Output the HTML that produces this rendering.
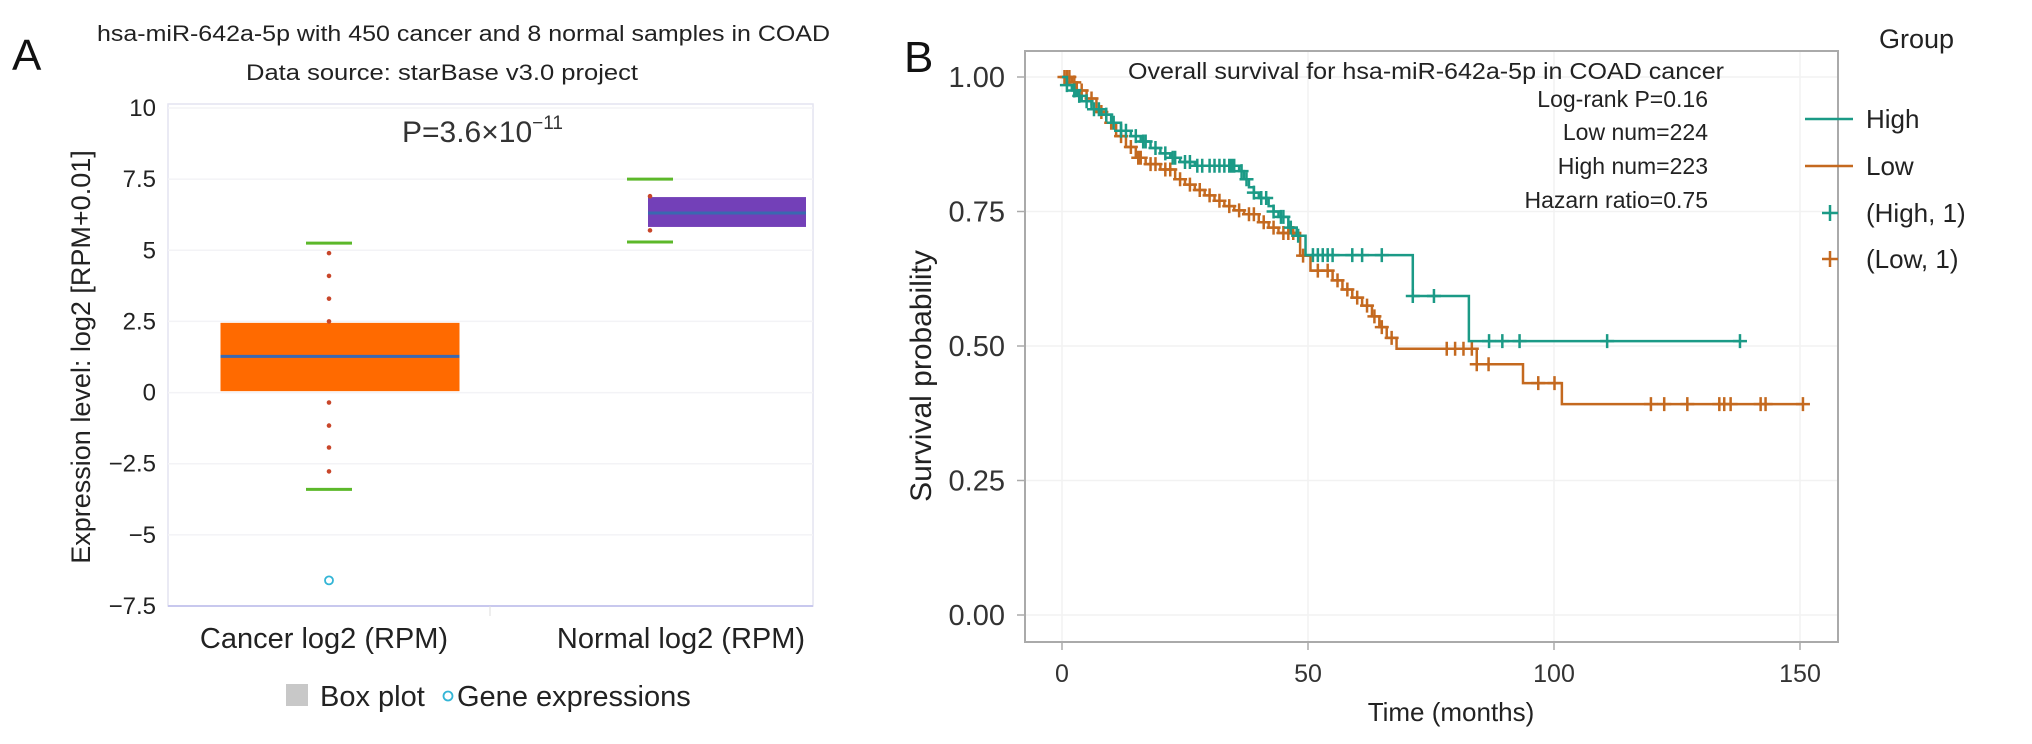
<!DOCTYPE html>
<html><head><meta charset="utf-8"><style>
html,body{margin:0;padding:0;background:#fff;}
svg{display:block;font-family:"Liberation Sans",Arial,sans-serif;}
</style></head><body>
<svg id="fig" width="2032" height="744" viewBox="0 0 2032 744" xmlns="http://www.w3.org/2000/svg">
<g id="panelA">
<text x="12" y="70" font-size="44" fill="#111">A</text>
<text x="97" y="41" font-size="22" fill="#222" textLength="733" lengthAdjust="spacingAndGlyphs">hsa-miR-642a-5p with 450 cancer and 8 normal samples in COAD</text>
<text x="246" y="80" font-size="22" fill="#222" textLength="392" lengthAdjust="spacingAndGlyphs">Data source: starBase v3.0 project</text>
<rect x="168" y="104" width="645" height="502" fill="none" stroke="#e4e4f0" stroke-width="1.5"/>
<g id="gridA"></g>
<g id="yTicksA"></g>
<line x1="168" y1="606" x2="813" y2="606" stroke="#c8c8ee" stroke-width="2"/>
<line x1="490" y1="606" x2="490" y2="616" stroke="#ddd"/>
<text x="0" y="0" transform="translate(90,357) rotate(-90)" text-anchor="middle" font-size="27" fill="#222">Expression level: log2 [RPM+0.01]</text>
<text x="402" y="142" font-size="30" fill="#333">P=3.6×10<tspan dy="-13" font-size="19">−11</tspan></text>
<g id="boxes"></g>
<g id="xLabelsA"></g>
<rect x="286" y="684" width="22" height="22" fill="#c8c8c8"/>
<text x="320" y="706" font-size="29" fill="#222">Box plot</text>
<circle cx="448" cy="696" r="4.5" fill="none" stroke="#33b5d6" stroke-width="1.8"/>
<text x="457" y="706" font-size="29" fill="#222">Gene expressions</text>
</g>
<g id="panelB">
<text x="904" y="72" font-size="44" fill="#111">B</text>
<g id="gridB"></g>
<rect x="1025" y="51" width="813" height="591" fill="none" stroke="#aaa" stroke-width="2"/>
<g id="axesB"></g>
<text x="0" y="0" transform="translate(931,376) rotate(-90)" text-anchor="middle" font-size="30" fill="#222">Survival probability</text>
<text x="1451" y="721" text-anchor="middle" font-size="26" fill="#222">Time (months)</text>
<text x="1128" y="79" font-size="23" fill="#222" textLength="596" lengthAdjust="spacingAndGlyphs">Overall survival for hsa-miR-642a-5p in COAD cancer</text>
<text x="1708" y="107" text-anchor="end" font-size="23" fill="#222">Log-rank P=0.16</text>
<text x="1708" y="140" text-anchor="end" font-size="23" fill="#222">Low num=224</text>
<text x="1708" y="174" text-anchor="end" font-size="23" fill="#222">High num=223</text>
<text x="1708" y="208" text-anchor="end" font-size="23" fill="#222">Hazarn ratio=0.75</text>
<g id="curves"></g>
<text x="1879" y="48" font-size="27" fill="#222">Group</text>
<line x1="1805" y1="119" x2="1853" y2="119" stroke="#1b9a86" stroke-width="2.5"/>
<text x="1866" y="128" font-size="26" fill="#222">High</text>
<line x1="1805" y1="166" x2="1853" y2="166" stroke="#c4691f" stroke-width="2.5"/>
<text x="1866" y="175" font-size="26" fill="#222">Low</text>
<path d="M1822 213h16M1830 205v16" stroke="#1b9a86" stroke-width="2.5"/>
<text x="1866" y="222" font-size="26" fill="#222">(High, 1)</text>
<path d="M1822 259h16M1830 251v16" stroke="#c4691f" stroke-width="2.5"/>
<text x="1866" y="268" font-size="26" fill="#222">(Low, 1)</text>
</g>
</svg>
<script>
// ---- Panel A data ----
const yTicksA = [10, 7.5, 5, 2.5, 0, -2.5, -5, -7.5];
const yTickLabelsA = ["10", "7.5", "5", "2.5", "0", "−2.5", "−5", "−7.5"];
const categoriesA = ["Cancer log2 (RPM)", "Normal log2 (RPM)"];
const q1Values = [0.05, 5.82];
const medianValues = [1.27, 6.31];
const q3Values = [2.45, 6.87];
const whiskerLow = [-3.4, 5.29];
const whiskerHigh = [5.25, 7.5];
const cancerDots = [4.9, 4.1, 3.3, 2.5, -0.35, -1.16, -1.93, -2.77];
const normalDots = [6.9, 5.7];
const outlierValues = [-6.6];

// ---- Panel B data ----
const xTicksB = [0, 50, 100, 150];
const yTicksB = [0, 0.25, 0.5, 0.75, 1];
const yTickLabelsB = ["0.00", "0.25", "0.50", "0.75", "1.00"];
const highTimes = [0,1,2,3,4,6,8,10,12,14,16,18,20,22,24,27,36,37,38,39,40,42,43,44,46,47.7,49.5,71.3,82.7];
const highSurv  = [1,0.985,0.975,0.965,0.955,0.94,0.93,0.915,0.9,0.89,0.88,0.868,0.858,0.85,0.842,0.835,0.825,0.81,0.795,0.785,0.775,0.76,0.75,0.74,0.72,0.705,0.669,0.593,0.509];
const highEnd = 137.8;
const highCensor = [1,2.5,3.5,5,6.5,7.5,9,10.5,12,13,15,16.5,17,19,21,22.5,23,25,26,27.5,28.5,30,31,32,33,34,34.5,35,36.5,37.5,39,40.5,41.5,43,44.5,45,46.5,48,51,52,53,54,55,59,61,65,71.3,75.6,86.8,89.5,93,110.8,137.8];
const lowTimes = [0,2,3,5,7,9,11,13,15,17,20,23,25,27,29,31,33,35,37,40,42,44,48.4,50.5,55,57,59,61,63,64.5,66,68,84.3,93.7,101.6];
const lowSurv  = [1,0.99,0.975,0.96,0.935,0.915,0.89,0.87,0.85,0.838,0.828,0.81,0.8,0.79,0.78,0.77,0.76,0.752,0.745,0.73,0.72,0.71,0.668,0.64,0.622,0.605,0.59,0.575,0.555,0.535,0.515,0.495,0.466,0.431,0.392];
const lowEnd = 150.6;
const lowCensor = [0.5,1,1.5,2.5,4,6,8,10,12,14,15.5,16,18,19,21,22,24,26,28,30,32,34,36,38,39,41,43,45,46,47,49,52,54,56,58,60,62,63.5,65,67,78.2,79.9,81.6,83.3,84.3,86.7,96.8,100.1,119.7,122.4,127.1,133.6,134.6,135.9,142,143,150.6];

const NS = "http://www.w3.org/2000/svg";
function mk(tag, attrs, parent) {
  const e = document.createElementNS(NS, tag);
  for (const k in attrs) e.setAttribute(k, attrs[k]);
  parent.appendChild(e);
  return e;
}
const yA = v => 606 - (v + 7.5) * (498 / 17.5);
const xCat = i => 329 + i * 321;
const xBoxC = i => 340 + i * 387;
const xB = t => 1062 + t * 4.92;
const yB = p => 615 - p * 538;

const gridA = document.getElementById('gridA');
const yTA = document.getElementById('yTicksA');
yTicksA.forEach((v, i) => {
  if (v > -7.5) {
    const l = mk('line', {x1: 168, x2: 813, y1: yA(v), y2: yA(v), stroke: '#f3f3f6', 'stroke-width': 1.5}, gridA);
    
    
  }
  const t = mk('text', {x: 156, y: yA(v) + 8, 'text-anchor': 'end', 'font-size': 24, fill: '#222'}, yTA);
  t.textContent = yTickLabelsA[i];
  
  
});
const xLA = document.getElementById('xLabelsA');
const xLabelCenters = [324, 681];
categoriesA.forEach((c, i) => {
  const t = mk('text', {x: xLabelCenters[i], y: 648, 'text-anchor': 'middle', 'font-size': 29, fill: '#222'}, xLA);
  t.textContent = c;
  
  
});
const boxes = document.getElementById('boxes');
const boxColors = ['#ff6a00', '#7340b8'];
const boxWidths = [239, 158];
const dotSets = [cancerDots, normalDots];
categoriesA.forEach((c, i) => {
  const cx = xCat(i);
  const bc = xBoxC(i);
  const w = boxWidths[i];
  const r = mk('rect', {x: bc - w / 2, y: yA(q3Values[i]), width: w, height: yA(q1Values[i]) - yA(q3Values[i]), fill: boxColors[i]}, boxes);
  
  
  const m = mk('line', {x1: bc - w / 2, x2: bc + w / 2, y1: yA(medianValues[i]), y2: yA(medianValues[i]), stroke: '#3a68b0', 'stroke-width': 3}, boxes);
  
  
  [whiskerHigh[i], whiskerLow[i]].forEach(v => {
    const cap = mk('line', {x1: cx - 23, x2: cx + 23, y1: yA(v), y2: yA(v), stroke: '#5cb82a', 'stroke-width': 3}, boxes);
    
    
  });
  dotSets[i].forEach(v => {
    const d = mk('circle', {cx: cx, cy: yA(v), r: 2.3, fill: '#c8462a'}, boxes);
    
    
  });
});
outlierValues.forEach(v => {
  const o = mk('circle', {cx: xCat(0), cy: yA(v), r: 4, fill: 'none', stroke: '#33b5d6', 'stroke-width': 1.8}, boxes);
  
  
});

const gridB = document.getElementById('gridB');
const axesB = document.getElementById('axesB');
xTicksB.forEach(t => {
  const g = mk('line', {x1: xB(t), x2: xB(t), y1: 51, y2: 642, stroke: '#f2f2f2', 'stroke-width': 1.5}, gridB);
  
  
  const tk = mk('line', {x1: xB(t), x2: xB(t), y1: 642, y2: 650, stroke: '#aaa', 'stroke-width': 1.5}, axesB);
  
  
  const lb = mk('text', {x: xB(t), y: 682, 'text-anchor': 'middle', 'font-size': 25, fill: '#333'}, axesB);
  lb.textContent = String(t);
  
  
});
yTicksB.forEach((p, i) => {
  const g = mk('line', {x1: 1025, x2: 1838, y1: yB(p), y2: yB(p), stroke: '#f2f2f2', 'stroke-width': 1.5}, gridB);
  
  
  const tk = mk('line', {x1: 1017, x2: 1025, y1: yB(p), y2: yB(p), stroke: '#aaa', 'stroke-width': 1.5}, axesB);
  
  
  const lb = mk('text', {x: 1005, y: yB(p) + 10, 'text-anchor': 'end', 'font-size': 29, fill: '#333'}, axesB);
  lb.textContent = yTickLabelsB[i];
  
  
});
function survAt(times, surv, t) {
  let s = surv[0];
  for (let i = 0; i < times.length; i++) if (times[i] <= t) s = surv[i];
  return s;
}
function drawSeries(times, surv, end, censor, color, name) {
  const g = document.getElementById('curves');
  let d = 'M' + xB(times[0]) + ' ' + yB(surv[0]);
  for (let i = 1; i < times.length; i++) {
    d += ' H' + xB(times[i]) + ' V' + yB(surv[i]);
  }
  d += ' H' + xB(end);
  const p = mk('path', {d: d, fill: 'none', stroke: color, 'stroke-width': 2.5}, g);
  
  
  censor.forEach(t => {
    const cx = xB(t), cy = yB(survAt(times, surv, t));
    const m = mk('path', {d: 'M' + (cx - 7) + ' ' + cy + 'h14M' + cx + ' ' + (cy - 7) + 'v14', stroke: color, 'stroke-width': 2.5}, g);
    
    
  });
}
drawSeries(lowTimes, lowSurv, lowEnd, lowCensor, '#c4691f', 'low');
drawSeries(highTimes, highSurv, highEnd, highCensor, '#1b9a86', 'high');
</script>
</body></html>
